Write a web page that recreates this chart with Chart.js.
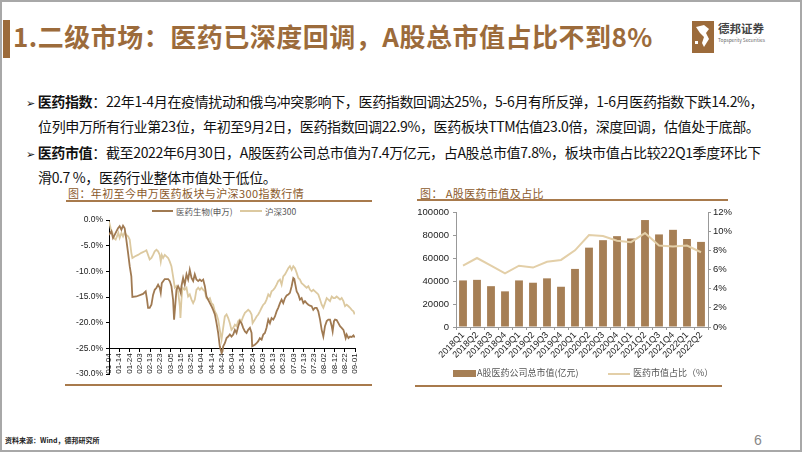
<!DOCTYPE html>
<html><head><meta charset="utf-8">
<script src="https://cdn.jsdelivr.net/npm/chart.js@4.4.1/dist/chart.umd.min.js"></script>
<style>
html,body{margin:0;padding:0;background:#fff;}
#page{position:relative;width:802px;height:452px;overflow:hidden;background:#fff;font-family:"Noto Sans CJK SC","Noto Sans",sans-serif;}
.abs{position:absolute;white-space:nowrap;}
#frame{left:0;top:0;width:802px;height:452px;box-sizing:border-box;border:2px solid #a8a8a8;}
.title{left:13px;top:17px;font-size:26px;font-weight:bold;color:#9c6b3b;line-height:38px;letter-spacing:0.5px;}
.bar{left:3px;top:20px;width:7px;height:38px;background:#9c6b3b;}
.txt{font-size:14px;line-height:20px;color:#111;letter-spacing:-0.35px;}
.bul{font-family:"DejaVu Sans";font-size:11px;}
.ct{font-size:11px;color:#8b5a2b;line-height:16px;letter-spacing:0.4px;}
.rule{height:2px;background:#a87a4c;}
.lg{font-size:8.5px;color:#555;line-height:12px;}
canvas{position:absolute;}
</style></head><body>
<div id="page">
  <div class="abs" id="frame"></div>
  <div class="abs bar"></div>
  <div class="abs title">1.二级市场：医药已深度回调，A股总市值占比不到8%</div>
  <svg class="abs" style="left:692px;top:21px" width="22" height="32" viewBox="0 0 22 32">
    <rect x="0" y="0" width="22" height="32" fill="#9c6b3b"/>
    <path d="M4 6 L12 4 L17 8 L14 12 L17 18 L12 26 L10 22 L12 16 L8 12 Z" fill="#fff"/>
    <rect x="3" y="20" width="3" height="3" fill="#fff"/>
  </svg>
  <div class="abs" style="left:718px;top:21px;font-size:11.5px;font-weight:bold;color:#444;line-height:15px;">德邦证券</div>
  <div class="abs" style="left:718px;top:37px;font-size:4.8px;color:#666;line-height:6px;">Topsperity Securities</div>

  <div class="abs txt" style="left:26px;top:91px;"><span class="bul">➢</span> <b>医药指数</b>：22年1-4月在疫情扰动和俄乌冲突影响下，医药指数回调达25%，5-6月有所反弹，1-6月医药指数下跌14.2%，</div>
  <div class="abs txt" style="left:38px;top:116px;">位列申万所有行业第23位，年初至9月2日，医药指数回调22.9%，医药板块TTM估值23.0倍，深度回调，估值处于底部。</div>
  <div class="abs txt" style="left:26px;top:142px;"><span class="bul">➢</span> <b>医药市值</b>：截至2022年6月30日，A股医药公司总市值为7.4万亿元，占A股总市值7.8%，板块市值占比较22Q1季度环比下</div>
  <div class="abs txt" style="left:38px;top:167px;">滑0.7 %，医药行业整体市值处于低位。</div>

  <div class="abs ct" style="left:68px;top:185px;">图：年初至今申万医药板块与沪深300指数行情</div>
  <div class="abs rule" style="left:66px;top:200px;width:306px;"></div>
  <div class="abs ct" style="left:420px;top:185px;">图： A股医药市值及占比</div>
  <div class="abs rule" style="left:417px;top:199px;width:311px;"></div>

  <div class="abs" style="left:152px;top:210px;width:21px;height:2px;background:#a07a52;"></div>
  <div class="abs lg" style="left:176px;top:205px;">医药生物(申万)</div>
  <div class="abs" style="left:240px;top:210px;width:22px;height:2px;background:#dcc9a0;"></div>
  <div class="abs lg" style="left:265px;top:205px;">沪深300</div>

  <canvas id="c1" width="340" height="190" style="left:40px;top:198px;"></canvas>
  <canvas id="c2" width="360" height="172" style="left:395px;top:200px;"></canvas>

  <div class="abs" style="left:453px;top:370px;width:23px;height:7px;background:#a67f55;"></div>
  <div class="abs lg" style="left:477px;top:367px;font-size:9px;">A股医药公司总市值(亿元)</div>
  <div class="abs" style="left:608px;top:373px;width:22px;height:2px;background:#e3cfa8;"></div>
  <div class="abs lg" style="left:633px;top:367px;font-size:9px;">医药市值占比（%）</div>

  <div class="abs rule" style="left:65px;top:384px;width:307px;"></div>
  <div class="abs rule" style="left:415px;top:385px;width:307px;"></div>

  <div class="abs" style="left:5px;top:435px;font-size:7px;font-weight:bold;color:#222;line-height:10px;">资料来源：Wind，德邦研究所</div>
  <div class="abs" style="left:754px;top:431px;font-size:14px;color:#888;line-height:18px;font-family:'Liberation Sans',Arial;">6</div>
</div>
<script>
// ---------- Left chart data ----------
const dateTicks = ["01-04","01-14","01-24","02-03","02-13","02-23","03-05","03-15","03-25","04-04","04-14","04-24","05-04","05-14","05-24","06-03","06-13","06-23","07-03","07-13","07-23","08-02","08-12","08-22","09-01"];
const medDays = [0,2.3,3.9,5.5,7.2,8.8,10.4,12.1,13.7,15.3,16.9,18.6,20.2,21.8,22.8,26.7,33.2,35.8,37.1,38.1,39.7,41.4,43.0,44.6,46.3,47.9,49.5,50.5,51.5,54.4,57.7,59.3,60.9,62.5,63.5,64.8,65.8,67.4,69.1,70.0,70.7,72.3,73.9,75.6,77.2,78.8,80.5,82.1,83.7,85.3,87.0,88.6,90.2,91.9,93.5,95.1,96.7,98.4,100.0,101.6,103.3,104.9,106.5,108.1,109.8,110.7,111.4,113.0,114.7,116.3,117.9,119.5,121.2,122.8,124.4,126.1,127.7,129.3,130.9,132.6,134.2,135.8,137.5,139.1,139.7,142.3,144.0,145.6,147.2,148.9,150.5,152.1,153.7,155.4,157.0,158.6,160.3,161.9,163.5,165.1,166.8,168.4,170.0,171.7,173.3,174.9,176.5,178.2,179.8,180.8,182.1,183.1,184.7,186.3,187.9,189.6,191.2,192.8,194.5,196.1,197.7,199.3,201.0,202.6,204.2,205.9,207.5,209.1,210.7,212.4,214.0,215.6,217.3,218.2,219.5,220.5,222.1,223.8,225.4,227.0,228.7,229.6,230.9,231.9,233.6,235.2,236.8,238.5,239.7];
const medIndex = [-2.9,-2.2,-3.5,-2.9,-2.2,-1.6,-1.2,-1.9,-1.1,-1.6,-3.8,-6.4,-9.0,-11.0,-15.0,-14.9,-14.4,-13.9,-15.5,-17.1,-17.1,-16.5,-14.6,-13.6,-13.2,-12.6,-13.2,-14.2,-12.3,-11.5,-11.5,-11.9,-12.9,-15.5,-19.4,-16.2,-13.6,-12.9,-13.6,-14.2,-12.9,-11.3,-12.6,-10.6,-11.6,-9.7,-11.3,-11.9,-10.6,-11.6,-11.9,-11.6,-11.9,-11.6,-12.9,-14.9,-15.5,-16.2,-16.8,-17.5,-18.4,-20.1,-22.0,-24.6,-25.9,-25.6,-24.6,-24.0,-23.0,-22.7,-22.3,-22.7,-22.3,-21.4,-22.0,-20.7,-19.7,-20.1,-21.0,-21.7,-22.0,-21.4,-21.0,-22.0,-24.6,-24.3,-24.0,-23.6,-23.0,-23.3,-22.3,-22.0,-21.0,-19.4,-20.1,-19.1,-19.4,-18.8,-17.8,-17.1,-16.2,-15.5,-16.2,-15.2,-14.7,-14.5,-14.2,-12.9,-11.3,-11.5,-12.9,-13.9,-14.5,-15.5,-15.2,-16.2,-15.8,-16.2,-16.5,-16.7,-16.8,-17.5,-17.1,-17.1,-17.8,-19.4,-21.4,-22.7,-20.7,-19.7,-19.4,-19.4,-20.7,-21.7,-19.7,-19.4,-19.5,-20.1,-20.7,-21.0,-21.4,-22.0,-23.0,-22.3,-23.0,-22.7,-22.8,-22.5,-22.9];
const csiDays = [0,1.6,3.3,4.6,6.5,7.8,9.1,10.4,12.1,13.7,15.3,16.9,18.6,20.2,21.8,22.8,25.1,28.3,31.6,34.9,36.5,38.1,39.7,41.4,43.0,44.6,46.3,47.9,49.5,50.5,51.5,52.8,54.4,56.0,57.7,59.3,60.9,62.5,64.2,65.8,67.4,69.1,69.7,70.7,71.7,73.9,75.6,77.2,78.8,80.5,82.1,83.7,85.3,87.0,88.6,90.2,91.9,93.5,95.1,96.7,98.4,100.0,101.6,103.3,104.9,106.5,108.1,109.8,111.4,113.0,114.7,116.3,117.9,119.5,121.2,122.8,124.4,126.1,127.7,129.3,130.9,132.6,134.2,135.8,137.5,139.1,140.1,142.3,144.0,145.6,147.2,148.9,150.5,152.1,153.7,155.4,157.0,158.6,160.3,161.9,163.5,165.1,166.8,168.4,170.0,171.7,173.3,174.9,176.5,178.2,179.8,181.4,183.1,184.7,186.3,187.9,189.6,191.2,192.8,194.5,196.1,197.7,199.3,201.0,202.6,204.2,205.9,207.5,209.1,210.7,212.4,214.0,215.6,217.3,218.9,220.5,222.1,223.8,225.4,227.0,228.7,230.3,231.9,233.6,235.2,236.8,238.5,239.7];
const csi300 = [-0.3,-1.6,-2.5,-3.5,-3.8,-3.2,-2.5,-3.5,-2.5,-3.2,-2.4,-2.9,-3.2,-3.8,-6.4,-7.4,-7.1,-6.8,-6.4,-6.1,-5.9,-6.8,-7.7,-7.4,-6.8,-6.1,-5.8,-6.1,-6.8,-8.1,-6.8,-7.4,-6.8,-7.1,-7.4,-8.1,-9.0,-11.0,-13.2,-12.9,-13.9,-16.8,-19.1,-15.5,-13.2,-13.6,-13.2,-14.9,-14.5,-15.5,-16.2,-15.5,-13.6,-13.2,-13.6,-13.2,-13.6,-13.9,-15.2,-15.5,-15.2,-16.2,-16.5,-17.8,-18.4,-19.4,-21.4,-23.3,-21.0,-18.8,-18.4,-19.1,-20.1,-21.4,-21.0,-20.4,-20.7,-19.7,-19.4,-19.7,-18.8,-18.1,-17.8,-17.5,-17.8,-18.4,-20.1,-19.4,-18.8,-18.4,-17.8,-17.1,-16.5,-16.2,-15.5,-14.5,-14.9,-13.9,-13.6,-13.2,-12.6,-11.9,-11.6,-12.6,-11.0,-10.6,-10.0,-9.4,-9.0,-9.7,-9.0,-9.4,-10.3,-11.3,-11.6,-12.3,-12.6,-12.9,-13.2,-12.9,-13.6,-13.9,-13.6,-13.9,-14.2,-14.5,-15.5,-16.5,-17.1,-16.2,-15.2,-15.5,-15.8,-14.9,-15.2,-15.2,-14.9,-15.2,-15.5,-15.2,-15.8,-16.8,-16.5,-16.8,-17.1,-17.5,-17.8,-18.4];

// ---------- Right chart data ----------
const quarters = ["2018Q1","2018Q2","2018Q3","2018Q4","2019Q1","2019Q2","2019Q3","2019Q4","2020Q1","2020Q2","2020Q3","2020Q4","2021Q1","2021Q2","2021Q3","2021Q4","2022Q1","2022Q2"];
const marketCap = [40500,41000,35500,31000,40500,38500,42300,35000,50500,69000,75500,79000,77000,93000,80500,84500,76500,74000];
const capShare = [6.4,7.2,6.4,5.6,6.4,6.2,6.8,7.0,8.0,9.6,9.5,9.0,8.85,9.8,8.5,8.4,8.5,7.8];

const AX = "'Liberation Sans', Arial, sans-serif";
Chart.defaults.font.family = AX;
Chart.defaults.animation = false;

function fitArea(chart, t){
  for(let k=0;k<4;k++){
    const ca = chart.chartArea, p = chart.options.layout.padding;
    p.left += t.left - ca.left;
    p.top += t.top - ca.top;
    p.right += ca.right - t.right;
    p.bottom += ca.bottom - t.bottom;
    chart.update('none');
  }
}

const toXY = (d, v) => d.map((x,i)=>({x:x, y:v[i]}));

const c1 = new Chart(document.getElementById('c1'), {
  type:'line',
  data:{datasets:[
    {label:'医药生物(申万)', data:toXY(medDays, medIndex), borderColor:'#a07a52', borderWidth:1.8, pointRadius:0, tension:0},
    {label:'沪深300', data:toXY(csiDays, csi300), borderColor:'#dcc9a0', borderWidth:1.8, pointRadius:0, tension:0}
  ]},
  options:{
    responsive:false, animation:false,
    layout:{padding:{left:0,right:25,top:20,bottom:12}},
    plugins:{legend:{display:false}, tooltip:{enabled:false}},
    scales:{
      x:{type:'linear', min:0, max:240, position:{y:-25},
        afterBuildTicks:(s)=>{ s.ticks = dateTicks.map((_,i)=>({value:i*10})); },
        ticks:{autoSkip:false, maxRotation:90, minRotation:90, font:{size:8}, color:'#222', padding:2,
          callback:(v,i)=>dateTicks[i]},
        grid:{drawOnChartArea:false, drawTicks:true, tickLength:3, color:'#000'},
        border:{display:true, color:'#000', width:1}},
      y:{type:'linear', min:-30, max:0,
        afterFit:(s)=>{ s.width = 69; },
        ticks:{stepSize:5, font:{size:8.5}, color:'#222', padding:3, callback:(v)=>v.toFixed(1)+'%'},
        grid:{drawOnChartArea:false, drawTicks:true, tickLength:3, color:'#000'},
        border:{display:true, color:'#000', width:1}}
    }
  }
});
fitArea(c1, {left:69, right:315, top:22, bottom:176});

const c2 = new Chart(document.getElementById('c2'), {
  type:'bar',
  data:{labels:quarters, datasets:[
    {type:'line', label:'医药市值占比（%）', data:capShare, yAxisID:'y1', borderColor:'#e3cfa8', borderWidth:2, pointRadius:0, tension:0, order:0},
    {type:'bar', label:'A股医药公司总市值(亿元)', data:marketCap, yAxisID:'y', backgroundColor:'#a67f55', categoryPercentage:1, barPercentage:0.56, order:1}
  ]},
  options:{
    responsive:false, animation:false,
    layout:{padding:{left:0,right:10,top:10,bottom:5}},
    plugins:{legend:{display:false}, tooltip:{enabled:false}},
    scales:{
      x:{ticks:{autoSkip:false, maxRotation:45, minRotation:45, font:{size:9}, color:'#222', padding:0},
        grid:{drawOnChartArea:false, drawTicks:true, tickLength:3, color:'#999'},
        border:{display:true, color:'#999', width:1}},
      y:{position:'left', min:0, max:100000,
        afterFit:(s)=>{ s.width = 61; },
        ticks:{stepSize:10000, font:{size:9.5}, color:'#222', padding:4, callback:(v)=>String(v)},
        grid:{drawOnChartArea:false, drawTicks:true, tickLength:3, color:'#999'},
        border:{display:true, color:'#999', width:1}},
      y1:{position:'right', min:0, max:12,
        ticks:{stepSize:2, font:{size:9.5}, color:'#222', padding:2, callback:(v)=>v+'%'},
        grid:{drawOnChartArea:false, drawTicks:true, tickLength:3, color:'#999'},
        border:{display:true, color:'#999', width:1}}
    }
  }
});
fitArea(c2, {left:61, right:313, top:12, bottom:127});
</script>
</body></html>
